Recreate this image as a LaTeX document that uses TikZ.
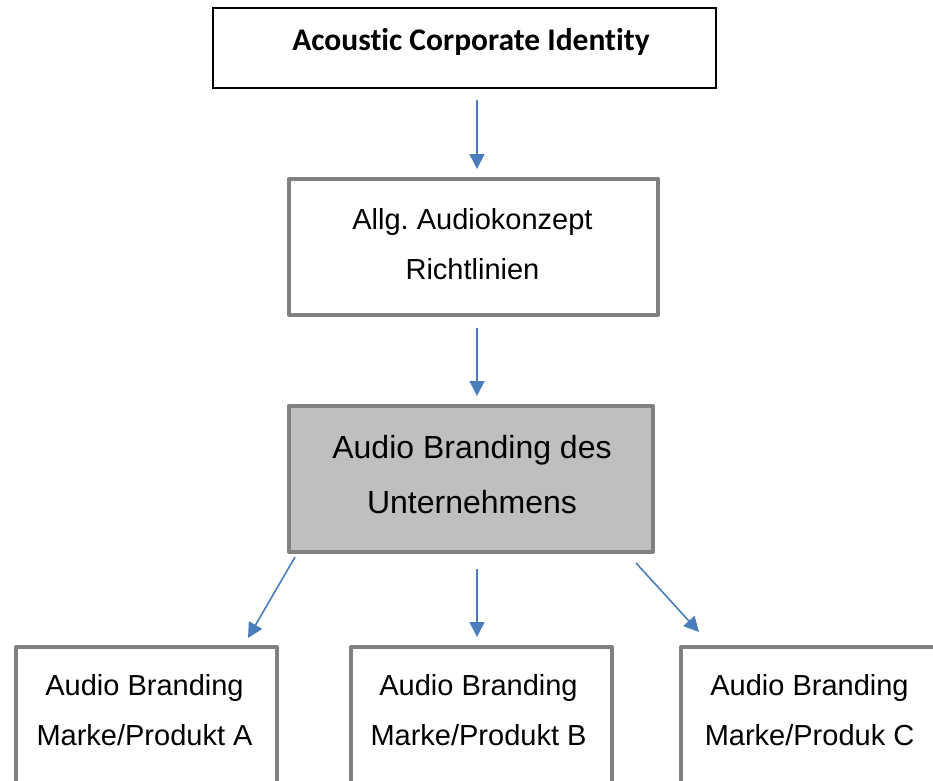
\documentclass[tikz,border=0pt]{standalone}
\usepackage{fontspec}
\setmainfont{Liberation Sans}
\newfontfamily\calibrifont[Ligatures=NoCommon]{Carlito}
\usetikzlibrary{arrows.meta}
\frenchspacing
\definecolor{framegrey}{HTML}{808080}
\definecolor{fillgrey}{HTML}{BFBFBF}
\definecolor{arrowblue}{HTML}{4A7EBB}
\tikzset{
  topbox/.style={draw=black, line width=1.5pt, fill=white, inner sep=0pt},
  greybox/.style={draw=framegrey, line width=4pt, line join=round, fill=white, inner sep=0pt},
  label/.style={inner sep=0pt, align=center},
  flow/.style={draw=arrowblue, line width=1.6pt, -{Triangle[length=15pt,width=15pt]}}
}
\begin{document}
\begin{tikzpicture}[x=1pt,y=-1pt]
  \useasboundingbox (0,0) rectangle (933,780);
  \clip (0,0) rectangle (933,780);

  % level 1
  \node[topbox, minimum width=503pt, minimum height=80pt] (aci) at (464.5,48) {};
  \node[label, anchor=base, font=\calibrifont\bfseries\fontsize{31.5}{36}\selectfont] (acit) at (471,50) {Acoustic Corporate Identity};

  % level 2
  \node[greybox, minimum width=369pt, minimum height=136pt] (konzept) at (473.5,247) {};
  \node[label, font=\fontsize{29}{50}\selectfont] (konzeptt) at (472.5,243.8) {Allg. Audiokonzept\\Richtlinien};

  % level 3
  \node[greybox, fill=fillgrey, minimum width=364pt, minimum height=146pt] (unternehmen) at (471,479) {};
  \node[label, font=\fontsize{32}{54.5}\selectfont] (unternehment) at (472,474.5) {Audio Branding des\\Unternehmens};

  % level 4 (boxes run past the lower edge)
  \node[greybox, anchor=north west, minimum width=261pt, minimum height=200pt] (pa) at (14,645) {};
  \node[greybox, anchor=north west, minimum width=261pt, minimum height=200pt] (pb) at (349,645) {};
  \node[greybox, anchor=north west, minimum width=261pt, minimum height=200pt] (pc) at (679,645) {};
  \node[label, font=\fontsize{29}{50.3}\selectfont] (pat) at (144.5,710.3) {Audio Branding\\Marke/Produkt A};
  \node[label, font=\fontsize{29}{50.3}\selectfont] (pbt) at (478.5,710.3) {Audio Branding\\Marke/Produkt B};
  \node[label, font=\fontsize{29}{50.3}\selectfont] (pct) at (809.5,710.3) {Audio Branding\\Marke/Produk C};

  % arrow end points
  \coordinate (a1s) at (477,100);
  \coordinate (a1e) at (477,169);
  \coordinate (a2s) at (477,328);
  \coordinate (a2e) at (477,396);
  \coordinate (ams) at (477,569);
  \coordinate (ame) at (477,637);
  \coordinate (als) at (295,557);
  \coordinate (ale) at (248,638);
  \coordinate (ars) at (636,563);
  \coordinate (are) at (699,632);

  \draw[flow] (a1s) -- (a1e);
  \draw[flow] (a2s) -- (a2e);
  \draw[flow] (als) -- (ale);
  \draw[flow] (ams) -- (ame);
  \draw[flow] (ars) -- (are);
\end{tikzpicture}
\end{document}
